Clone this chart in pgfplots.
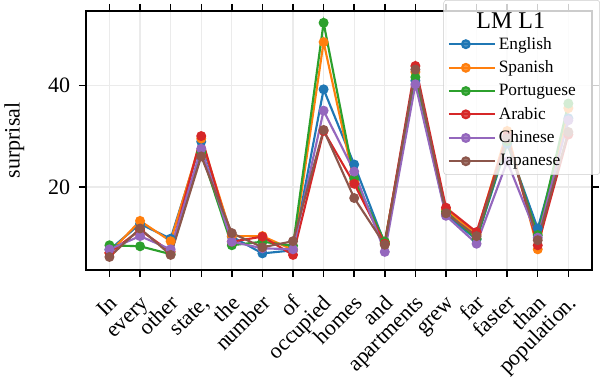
\documentclass[border=0pt]{standalone}
\usepackage{pgfplots}
\pgfplotsset{compat=1.18}
\usepackage{fontspec}
\setmainfont{Liberation Serif}
\definecolor{tblue}{HTML}{1F77B4}
\definecolor{torange}{HTML}{FF7F0E}
\definecolor{tgreen}{HTML}{2CA02C}
\definecolor{tred}{HTML}{D62728}
\definecolor{tpurple}{HTML}{9467BD}
\definecolor{tbrown}{HTML}{8C564B}
\newcommand{\lf}{\fontsize{16.5}{16.5}\selectfont}
\newcommand{\xl}[2]{\node[rotate=45, anchor=base east, inner sep=0pt, font=\lf] at ([shift={(7pt,-26pt)}]t#1) {#2};}
\begin{document}
\begin{tikzpicture}
\begin{axis}[
  scale only axis, width=379.5pt, height=194pt,
  xmin=-0.76, xmax=15.77, ymin=3.7, ymax=54.6,
  xtick={0,...,15}, xticklabels={},
  ytick={20,40},
  y tick label style={font=\lf, xshift=-3pt},
  /pgf/number format/assume math mode=true,
  tick align=outside, major tick length=5.5pt,
  tick style={black, line width=1.1pt},
  axis line style={line width=1.4pt},
  grid=major, grid style={color=black!8, line width=1pt},
  ylabel={surprisal},
  ylabel style={font=\lf, yshift=11pt},
  every axis plot/.append style={line width=1.6pt, mark=*, mark size=2.9pt, mark options={solid}},
  legend style={at={(1.016,1.043)}, anchor=north east, draw=black!20, rounded corners=2pt,
    fill=white, fill opacity=0.8, text opacity=1, draw opacity=1,
    font=\fontsize{13}{13}\selectfont, row sep=3.2pt, inner sep=3pt,
    nodes={inner sep=2pt}},
  legend cell align=left,
  legend image code/.code={\draw[mark repeat=2,mark phase=2] plot coordinates {(0cm,0cm) (0.45cm,0cm) (0.9cm,0cm)}; \path (0.9cm,0cm) -- (1.22cm,0cm);},
]
\addlegendimage{empty legend}
\addlegendentry{\hspace*{9pt}\makebox[0pt]{\fontsize{18}{18}\selectfont\raisebox{-2.5pt}[14pt][3pt]{LM L1}}}
\addplot[color=tblue] coordinates {(0,7.6)(1,12.7)(2,9.8)(3,28.9)(4,10.2)(5,6.9)(6,7.5)(7,39.2)(8,24.4)(9,8.8)(10,40.9)(11,14.5)(12,9.6)(13,28.5)(14,11.8)(15,33.5)};
\addlegendentry{English}
\addplot[color=torange] coordinates {(0,7.0)(1,13.3)(2,9.3)(3,29.5)(4,10.3)(5,10.3)(6,7.6)(7,48.5)(8,21.0)(9,9.0)(10,42.6)(11,15.5)(12,10.6)(13,31.0)(14,7.7)(15,35.5)};
\addlegendentry{Spanish}
\addplot[color=tgreen] coordinates {(0,8.5)(1,8.3)(2,6.75)(3,26.8)(4,8.5)(5,9.2)(6,8.4)(7,52.3)(8,21.6)(9,9.2)(10,41.6)(11,15.1)(12,9.8)(13,29.0)(14,10.5)(15,36.4)};
\addlegendentry{Portuguese\hspace*{13pt}}
\addplot[color=tred] coordinates {(0,7.0)(1,11.5)(2,7.2)(3,30.0)(4,9.2)(5,10.2)(6,6.6)(7,31.0)(8,20.6)(9,8.8)(10,43.8)(11,15.9)(12,11.1)(13,30.0)(14,8.5)(15,30.3)};
\addlegendentry{Arabic}
\addplot[color=tpurple] coordinates {(0,7.7)(1,10.3)(2,7.7)(3,27.5)(4,9.2)(5,7.9)(6,7.7)(7,35.0)(8,23.0)(9,7.2)(10,40.2)(11,14.3)(12,8.8)(13,25.0)(14,10.0)(15,33.1)};
\addlegendentry{Chinese}
\addplot[color=tbrown] coordinates {(0,6.2)(1,11.8)(2,6.6)(3,26.0)(4,10.9)(5,8.1)(6,9.3)(7,31.2)(8,17.8)(9,8.6)(10,43.1)(11,14.8)(12,10.3)(13,29.5)(14,9.5)(15,30.8)};
\addlegendentry{Japanese}
\coordinate (t0) at (axis cs:0,3.7);
\coordinate (t1) at (axis cs:1,3.7);
\coordinate (t2) at (axis cs:2,3.7);
\coordinate (t3) at (axis cs:3,3.7);
\coordinate (t4) at (axis cs:4,3.7);
\coordinate (t5) at (axis cs:5,3.7);
\coordinate (t6) at (axis cs:6,3.7);
\coordinate (t7) at (axis cs:7,3.7);
\coordinate (t8) at (axis cs:8,3.7);
\coordinate (t9) at (axis cs:9,3.7);
\coordinate (t10) at (axis cs:10,3.7);
\coordinate (t11) at (axis cs:11,3.7);
\coordinate (t12) at (axis cs:12,3.7);
\coordinate (t13) at (axis cs:13,3.7);
\coordinate (t14) at (axis cs:14,3.7);
\coordinate (t15) at (axis cs:15,3.7);
\end{axis}
\xl{0}{In}
\xl{1}{every}
\xl{2}{other}
\xl{3}{state,}
\xl{4}{the}
\xl{5}{number}
\xl{6}{of}
\xl{7}{occupied}
\xl{8}{homes}
\xl{9}{and}
\xl{10}{apartments}
\xl{11}{grew}
\xl{12}{far}
\xl{13}{faster}
\xl{14}{than}
\xl{15}{population.}
\path ([yshift=-87pt]t0);
\end{tikzpicture}
\end{document}
